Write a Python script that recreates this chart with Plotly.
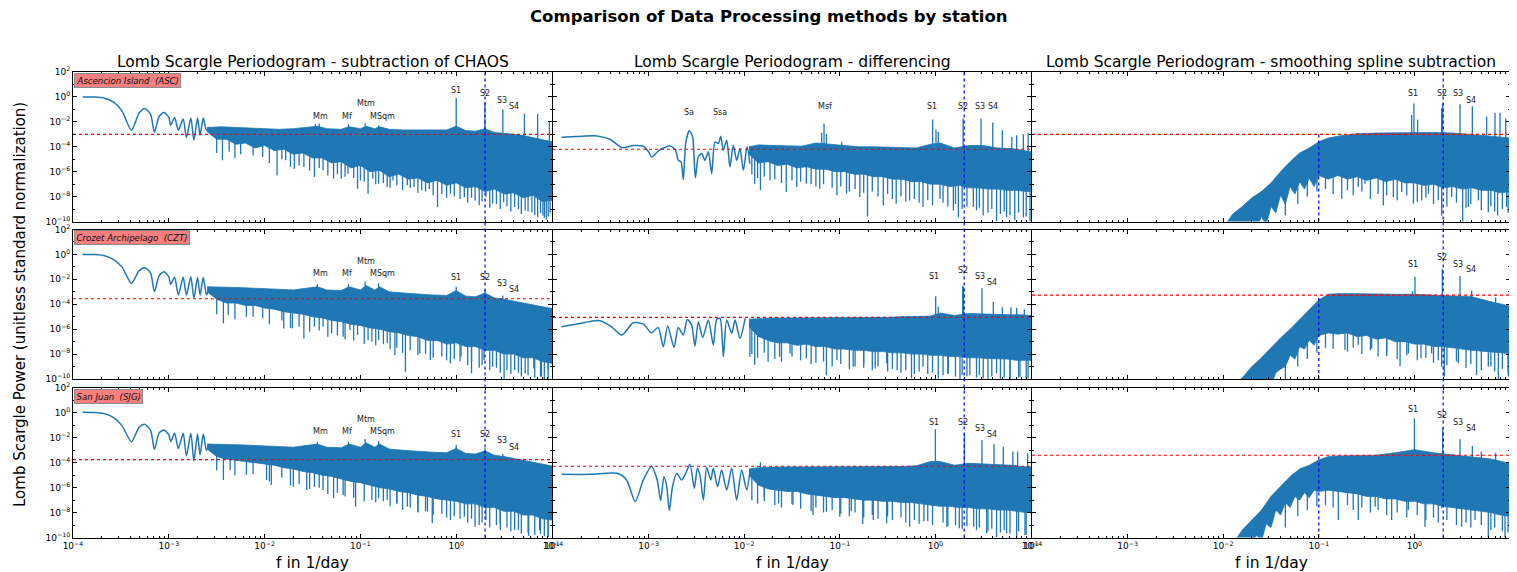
import numpy as np
import plotly.graph_objects as go

BLUE = "#1f77b4"
FONT = "DejaVu Sans"

# ---------------- data: log10(frequency [1/day]) and log10(power) ----------------
# Column 1: subtraction of CHAOS
c1_lobe_f = [-3.90, -3.78, -3.68, -3.58, -3.49, -3.39, -3.31, -3.25, -3.19, -3.15, -3.10, -3.05, -3.00,
             -2.98, -2.94, -2.90, -2.85, -2.816, -2.77, -2.738, -2.70, -2.674, -2.64, -2.607, -2.58]
asc_chaos_lobe = [0.00, -0.01, -0.08, -0.40, -1.10, -2.67, -1.30, -0.93, -1.40, -2.83, -1.55, -1.25, -1.65,
                  -2.27, -1.65, -2.67, -1.78, -3.26, -1.70, -3.48, -1.70, -3.07, -1.70, -2.67, -2.45]
czt_chaos_lobe = [0.00, -0.01, -0.08, -0.40, -1.00, -2.32, -1.30, -1.07, -1.50, -2.99, -1.70, -1.39, -1.80,
                  -2.40, -1.84, -3.26, -1.84, -3.26, -1.80, -3.53, -1.85, -3.26, -1.85, -3.26, -2.60]
sjg_chaos_lobe = [0.05, 0.03, -0.05, -0.35, -1.00, -2.31, -1.15, -0.92, -1.40, -2.92, -1.60, -1.37, -1.75,
                  -2.30, -1.64, -2.85, -1.64, -3.46, -1.64, -3.83, -1.70, -3.38, -1.70, -3.00, -2.50]

c1_top_f = [-2.60, -2.45, -2.30, -2.15, -2.00, -1.85, -1.70, -1.55, -1.45, -1.35, -1.20, -1.12, -1.00, -0.94,
            -0.85, -0.80, -0.70, -0.55, -0.40, -0.25, -0.10, 0.00, 0.10, 0.20, 0.30, 0.40, 0.50, 0.60, 0.70,
            0.80, 0.90, 1.00]
asc_chaos_top = [-2.45, -2.40, -2.45, -2.50, -2.55, -2.60, -2.55, -2.45, -2.35, -2.55, -2.60, -2.40, -2.55,
                 -2.35, -2.55, -2.40, -2.60, -2.65, -2.65, -2.70, -2.65, -2.35, -2.70, -2.75, -2.55, -2.85,
                 -2.90, -3.00, -3.10, -3.25, -3.40, -3.60]
czt_chaos_top = [-2.60, -2.60, -2.65, -2.70, -2.75, -2.85, -2.85, -2.70, -2.60, -2.85, -2.90, -2.60, -2.85,
                 -2.50, -2.85, -2.60, -3.00, -3.10, -3.20, -3.25, -3.30, -2.90, -3.35, -3.40, -3.10, -3.50,
                 -3.60, -3.75, -3.90, -4.05, -4.20, -4.35]
sjg_chaos_top = [-2.50, -2.50, -2.55, -2.60, -2.65, -2.75, -2.75, -2.60, -2.50, -2.75, -2.80, -2.50, -2.75,
                 -2.40, -2.75, -2.50, -2.90, -3.00, -3.10, -3.15, -3.20, -2.85, -3.25, -3.30, -3.05, -3.40,
                 -3.50, -3.65, -3.80, -3.95, -4.10, -4.26]

c1_bot_f = [-2.60, -2.50, -2.40, -2.30, -2.20, -2.10, -2.00, -1.90, -1.80, -1.70, -1.60, -1.50, -1.40, -1.30,
            -1.20, -1.10, -1.00, -0.90, -0.80, -0.70, -0.60, -0.50, -0.40, -0.30, -0.20, -0.10, 0.00, 0.10,
            0.20, 0.30, 0.40, 0.50, 0.60, 0.70, 0.80, 0.90, 1.00]
asc_chaos_bot = [-2.8, -3.4, -3.4, -3.8, -3.7, -4.1, -3.9, -4.3, -4.2, -4.6, -4.5, -4.9, -4.9, -5.3, -5.2,
                 -5.7, -5.5, -6.0, -5.9, -6.4, -6.2, -6.6, -6.5, -6.9, -6.7, -7.1, -6.9, -7.3, -7.2, -7.6,
                 -7.4, -7.8, -7.7, -8.1, -7.9, -8.4, -8.3]
czt_chaos_bot = [-3.0, -3.6, -3.9, -3.9, -4.1, -4.1, -4.3, -4.4, -4.6, -4.7, -4.8, -5.0, -5.1, -5.3, -5.4,
                 -5.6, -5.7, -5.9, -6.0, -6.2, -6.3, -6.5, -6.6, -6.9, -6.9, -7.2, -7.1, -7.4, -7.4, -7.7,
                 -7.7, -8.0, -8.0, -8.3, -8.3, -8.6, -8.75]
sjg_chaos_bot = [-2.9, -3.5, -3.7, -3.8, -3.9, -4.0, -4.1, -4.2, -4.4, -4.5, -4.7, -4.8, -5.0, -5.1, -5.3,
                 -5.5, -5.6, -5.8, -6.0, -6.1, -6.3, -6.4, -6.6, -6.7, -6.9, -7.0, -7.1, -7.3, -7.3, -7.6,
                 -7.6, -7.9, -7.9, -8.2, -8.2, -8.5, -8.6]

asc_chaos_peak_f = [-1.47, -1.43, -1.125, -0.95, -0.81, 0.00, 0.30, 0.487, 0.712, 0.85, 0.973]
asc_chaos_peak_p = [-2.20, -2.13, -2.19, -2.13, -2.27, -0.08, -0.40, -1.00, -1.38, -1.38, -1.92]
czt_chaos_peak_f = [-1.45, -1.125, -0.95, -0.81, 0.00, 0.30, 0.487]
czt_chaos_peak_p = [-2.38, -2.38, -2.19, -2.32, -2.59, -2.86, -3.30]
sjg_chaos_peak_f = [-1.45, -1.125, -0.95, -0.81, 0.00, 0.30, 0.487]
sjg_chaos_peak_p = [-2.31, -2.31, -2.09, -2.25, -2.57, -2.84, -3.30]

asc_chaos_dip_f = [-2.44, -2.37, -2.25, -2.02, -1.87, -1.78, -1.69, -1.59, -1.48, -1.39, -1.28, -1.20, -1.13,
                   -1.03, -1.00, -0.92, -0.87, -0.81, -0.72, -0.66, -0.51, -0.44, -0.36, -0.28, -0.195, -0.06,
                   0.085, 0.197, 0.31, 0.38, 0.495, 0.61, 0.72, 0.79, 0.85, 0.905, 0.94, 0.98]
asc_chaos_dip_p = [-5.09, -4.41, -4.60, -4.82, -6.29, -5.09, -5.76, -5.62, -6.43, -5.89, -6.56, -6.56, -6.16,
                   -7.37, -6.70, -7.77, -6.56, -6.96, -7.23, -6.70, -7.10, -7.23, -7.50, -7.40, -8.84, -7.77,
                   -8.04, -8.31, -8.04, -8.57, -8.44, -8.84, -9.11, -9.25, -9.65, -9.51, -9.86, -9.30]
czt_chaos_dip_f = [-2.43, -2.38, -2.19, -2.02, -1.80, -1.71, -1.59, -1.48, -1.39, -1.30, -1.18, -1.11, -1.03,
                   -0.92, -0.88, -0.81, -0.72, -0.64, -0.53, -0.38, -0.27, -0.06, 0.05, 0.16, 0.29, 0.38, 0.50,
                   0.61, 0.72, 0.81, 0.89, 0.96]
czt_chaos_dip_p = [-5.54, -4.87, -5.00, -5.13, -5.94, -5.94, -6.74, -5.80, -5.80, -6.34, -6.61, -6.07, -6.47,
                   -6.88, -7.01, -6.88, -7.14, -8.08, -9.42, -7.95, -8.48, -8.75, -8.21, -9.55, -8.48, -9.02,
                   -10.0, -9.28, -9.55, -9.15, -9.82, -9.28]
sjg_chaos_dip_f = [-2.43, -2.36, -2.19, -1.98, -1.93, -1.70, -1.56, -1.48, -1.39, -1.28, -1.18, -1.05, -0.88,
                   -0.81, -0.72, -0.62, -0.51, -0.40, -0.30, -0.25, -0.06, 0.085, 0.197, 0.31, 0.46, 0.61,
                   0.757, 0.87, 0.96]
sjg_chaos_dip_p = [-5.38, -4.58, -4.98, -5.38, -5.78, -5.92, -6.19, -5.92, -6.19, -6.85, -6.59, -7.52, -6.99,
                   -6.85, -6.99, -7.26, -7.52, -7.93, -7.93, -8.86, -8.59, -8.33, -9.13, -8.59, -8.86, -9.40,
                   -9.88, -9.40, -9.93]
# shorter dips between the long ones
c1_dip2_f = [-2.50, -2.31, -2.12, -1.95, -1.82, -1.73, -1.64, -1.53, -1.43, -1.34, -1.24, -1.16, -1.07, -0.96,
             -0.84, -0.76, -0.69, -0.62, -0.56, -0.48, -0.40, -0.32, -0.24, -0.15, -0.10, -0.02, 0.04, 0.12,
             0.16, 0.24, 0.27, 0.35, 0.42, 0.46, 0.53, 0.57, 0.65, 0.68, 0.75, 0.82, 0.88, 0.92, 0.96]
asc_chaos_dip2_p = [-4.5, -4.9, -4.7, -5.3, -5.0, -5.6, -5.5, -5.9, -5.7, -6.3, -6.2, -6.4, -6.5, -6.8, -7.0,
                    -6.9, -7.3, -7.1, -7.5, -7.3, -7.7, -7.6, -7.9, -7.8, -8.1, -8.0, -8.2, -8.5, -8.1, -8.7,
                    -8.4, -8.9, -8.6, -9.0, -8.8, -9.2, -9.0, -9.4, -9.2, -9.5, -9.3, -9.7, -9.6]
czt_chaos_dip2_p = [-4.8, -5.2, -5.0, -5.6, -5.3, -5.9, -5.8, -6.2, -6.1, -6.6, -6.5, -6.8, -6.9, -7.2, -7.3,
                    -7.2, -7.6, -7.5, -7.9, -7.7, -8.1, -8.0, -8.3, -8.2, -8.5, -8.4, -8.6, -8.9, -8.6, -9.1,
                    -8.9, -9.3, -9.1, -9.5, -9.3, -9.6, -9.5, -9.8, -9.7, -9.9, -9.8, -10.0, -10.0]
sjg_chaos_dip2_p = [-4.6, -5.0, -4.9, -5.5, -5.2, -5.8, -5.7, -6.1, -6.0, -6.5, -6.4, -6.7, -6.8, -7.1, -7.2,
                    -7.1, -7.5, -7.3, -7.8, -7.6, -8.0, -7.9, -8.2, -8.1, -8.4, -8.3, -8.5, -8.8, -8.5, -9.0,
                    -8.8, -9.2, -9.0, -9.4, -9.2, -9.5, -9.4, -9.7, -9.6, -9.8, -9.7, -9.9, -9.9]

# Column 2: differencing
asc_diff_curve_f = [-3.91, -3.75, -3.54, -3.40, -3.28, -3.16, -3.055, -3.00, -2.968, -2.92, -2.88, -2.83, -2.776,
                    -2.72, -2.69, -2.661, -2.637, -2.61, -2.574, -2.54, -2.511, -2.48, -2.445, -2.41, -2.375,
                    -2.34, -2.305, -2.27, -2.246, -2.218, -2.183, -2.149, -2.114, -2.079, -2.044, -2.009,
                    -1.97, -1.94]
asc_diff_curve_p = [-3.23, -3.18, -3.13, -3.42, -4.07, -3.90, -3.96, -4.41, -4.82, -4.50, -4.23, -4.07, -3.93,
                    -4.23, -5.09, -5.20, -6.64, -3.60, -2.72, -3.21, -6.48, -4.82, -4.55, -5.09, -4.41, -6.16,
                    -3.61, -3.74, -3.15, -4.28, -3.47, -5.62, -3.88, -5.09, -4.15, -5.89, -4.00, -5.35]
czt_diff_curve_f = [-3.91, -3.75, -3.51, -3.39, -3.28, -3.16, -3.055, -2.97, -2.90, -2.846, -2.80, -2.734, -2.69,
                    -2.637, -2.595, -2.55, -2.515, -2.48, -2.434, -2.375, -2.323, -2.288, -2.253, -2.218,
                    -2.183, -2.13, -2.096, -2.044, -1.99]
czt_diff_curve_p = [-5.80, -5.59, -5.32, -5.80, -6.47, -5.48, -5.59, -6.29, -5.86, -7.41, -5.75, -7.47, -5.86,
                    -6.47, -5.22, -5.67, -7.36, -5.40, -6.66, -5.27, -7.28, -5.22, -5.14, -8.21, -5.27, -6.34,
                    -5.27, -6.74, -5.14]
sjg_diff_curve_f = [-3.91, -3.61, -3.33, -3.23, -3.14, -3.055, -2.97, -2.91, -2.874, -2.84, -2.81, -2.783, -2.75,
                    -2.706, -2.654, -2.612, -2.567, -2.522, -2.49, -2.46, -2.427, -2.393, -2.35, -2.323, -2.278,
                    -2.236, -2.183, -2.131, -2.079, -2.026, -1.974, -1.94]
sjg_diff_curve_p = [-4.93, -4.93, -4.85, -5.38, -7.12, -5.38, -4.31, -5.38, -7.04, -5.12, -5.92, -7.84, -5.92,
                    -4.85, -5.38, -4.85, -4.13, -6.05, -4.45, -5.12, -6.99, -4.37, -5.38, -4.45, -5.92, -4.58,
                    -6.19, -4.45, -6.99, -4.58, -6.19, -4.71]

c2_top_f = [-1.95, -1.85, -1.70, -1.55, -1.40, -1.25, -1.10, -0.95, -0.80, -0.65, -0.50, -0.35, -0.20, -0.05,
            0.05, 0.20, 0.35, 0.50, 0.65, 0.80, 0.90, 1.00]
asc_diff_top = [-4.00, -3.85, -3.90, -3.90, -3.95, -3.70, -3.80, -3.95, -4.00, -4.00, -4.05, -4.05, -4.10, -3.80,
                -3.70, -4.10, -3.90, -3.90, -4.10, -4.15, -4.25, -4.40]
czt_diff_top = [-5.20, -5.15, -5.10, -5.10, -5.10, -5.05, -5.05, -5.10, -5.10, -5.05, -5.05, -5.00, -5.00, -4.95,
                -4.70, -4.90, -4.75, -4.80, -4.85, -4.85, -4.85, -4.90]
sjg_diff_top = [-4.50, -4.40, -4.35, -4.35, -4.35, -4.30, -4.35, -4.30, -4.35, -4.35, -4.30, -4.30, -4.25, -3.90,
                -3.90, -4.20, -4.05, -4.10, -4.15, -4.20, -4.30, -4.35]

c2_bot_f = [-1.95, -1.85, -1.75, -1.65, -1.55, -1.45, -1.35, -1.25, -1.15, -1.05, -0.95, -0.85, -0.75, -0.65,
            -0.55, -0.45, -0.35, -0.25, -0.15, -0.05, 0.05, 0.15, 0.25, 0.35, 0.45, 0.55, 0.65, 0.75, 0.85,
            0.95, 1.00]
asc_diff_bot = [-4.6, -5.3, -5.2, -5.5, -5.4, -5.7, -5.6, -5.8, -5.8, -6.0, -6.0, -6.2, -6.2, -6.4, -6.4, -6.6,
                -6.6, -6.8, -6.8, -7.0, -7.0, -7.2, -7.1, -7.3, -7.3, -7.4, -7.4, -7.5, -7.5, -7.6, -7.6]
czt_diff_bot = [-5.8, -6.6, -6.9, -7.1, -7.1, -7.3, -7.2, -7.4, -7.4, -7.6, -7.6, -7.7, -7.7, -7.8, -7.8, -7.9,
                -7.9, -8.0, -8.0, -8.1, -8.1, -8.2, -8.2, -8.3, -8.3, -8.35, -8.4, -8.4, -8.5, -8.5, -8.5]
sjg_diff_bot = [-5.0, -5.8, -6.1, -6.2, -6.3, -6.3, -6.5, -6.6, -6.7, -6.8, -6.8, -6.9, -7.0, -7.0, -7.1, -7.1,
                -7.2, -7.2, -7.3, -7.4, -7.5, -7.5, -7.6, -7.6, -7.7, -7.7, -7.8, -7.8, -7.9, -8.0, -8.0]

asc_diff_peak_f = [-1.19, -1.165, -1.14, -0.98, -0.029, 0.006, 0.03, 0.29, 0.477, 0.60, 0.70, 0.80, 0.85, 0.92, 0.97]
asc_diff_peak_p = [-2.88, -2.13, -2.95, -3.60, -1.81, -2.62, -2.80, -1.73, -1.73, -2.05, -2.67, -3.21, -3.07, -2.99, -2.88]
czt_diff_peak_f = [0.003, 0.03, 0.285, 0.295, 0.487, 0.606, 0.70, 0.79, 0.85, 0.93]
czt_diff_peak_p = [-3.35, -4.20, -2.54, -2.60, -2.72, -3.80, -4.25, -4.25, -4.30, -4.40]
sjg_diff_peak_f = [-1.83, 0.0, 0.303, 0.487, 0.613, 0.71, 0.81, 0.86, 0.965]
sjg_diff_peak_p = [-3.95, -1.32, -1.64, -2.17, -2.49, -2.71, -3.10, -3.10, -3.24]

asc_diff_dip_f = [-1.89, -1.83, -1.73, -1.56, -1.45, -1.35, -1.21, -1.03, -0.93, -0.79, -0.71, -0.545, -0.41,
                  -0.27, -0.13, 0.048, 0.188, 0.24, 0.397, 0.50, 0.64, 0.745, 0.83, 0.92, 0.99]
asc_diff_dip_p = [-6.96, -7.50, -6.70, -7.63, -7.23, -6.96, -7.37, -7.90, -7.77, -8.04, -9.60, -8.71, -8.57,
                  -8.31, -8.84, -8.17, -9.11, -9.65, -8.84, -9.51, -10.0, -9.65, -9.90, -9.65, -10.0]
czt_diff_dip_f = [-1.94, -1.89, -1.75, -1.63, -1.52, -1.35, -1.14, -1.03, -0.86, -0.75, -0.63, -0.51, -0.40,
                  -0.25, -0.13, 0.03, 0.135, 0.257, 0.36, 0.50, 0.64, 0.78, 0.885, 0.97]
czt_diff_dip_p = [-8.21, -8.88, -8.62, -8.21, -7.95, -8.35, -9.69, -8.48, -9.02, -8.75, -9.15, -8.75, -9.28,
                  -9.95, -9.02, -9.95, -9.55, -10.0, -9.69, -9.95, -9.55, -10.0, -9.82, -9.95]
sjg_diff_dip_f = [-1.79, -1.64, -1.49, -1.28, -1.14, -1.00, -0.88, -0.76, -0.65, -0.51, -0.27, -0.12, 0.12,
                  0.25, 0.40, 0.536, 0.64, 0.745, 0.85, 0.937]
sjg_diff_dip_p = [-6.77, -7.26, -7.39, -8.19, -7.93, -8.33, -7.90, -8.91, -8.60, -8.86, -9.13, -8.70, -9.13,
                  -9.26, -9.13, -9.66, -10.0, -9.66, -9.93, -9.80]
c2_dip2_f = [-1.92, -1.86, -1.79, -1.68, -1.61, -1.50, -1.41, -1.30, -1.25, -1.17, -1.08, -0.99, -0.90, -0.84,
             -0.75, -0.66, -0.60, -0.50, -0.45, -0.36, -0.31, -0.22, -0.17, -0.08, -0.03, 0.08, 0.13, 0.21,
             0.28, 0.33, 0.43, 0.46, 0.55, 0.59, 0.68, 0.72, 0.78, 0.87, 0.95]
asc_diff_dip2_p = [-6.2, -6.5, -6.4, -6.6, -6.9, -6.7, -6.8, -7.0, -7.2, -7.0, -7.3, -7.2, -7.6, -7.4, -7.7,
                   -7.6, -8.0, -7.8, -8.2, -8.0, -8.4, -8.2, -8.5, -8.3, -8.7, -8.5, -8.8, -8.6, -9.0, -8.8,
                   -9.1, -8.9, -9.3, -9.0, -9.4, -9.2, -9.5, -9.3, -9.6]
czt_diff_dip2_p = [-8.0, -8.3, -7.9, -8.4, -8.6, -8.2, -8.5, -8.8, -8.7, -8.6, -9.0, -8.8, -9.2, -9.0, -9.1,
                   -9.3, -9.0, -9.4, -9.2, -9.5, -9.3, -9.6, -9.4, -9.6, -9.5, -9.7, -9.6, -9.8, -9.7, -9.8,
                   -9.9, -9.7, -10.0, -9.8, -10.0, -9.9, -10.0, -9.9, -10.0]
sjg_diff_dip2_p = [-7.0, -7.3, -7.1, -7.4, -7.6, -7.3, -7.7, -7.9, -7.6, -8.0, -7.8, -8.1, -8.3, -8.0, -8.4,
                   -8.2, -8.5, -8.3, -8.6, -8.4, -8.8, -8.6, -8.9, -8.7, -9.0, -8.8, -9.1, -9.0, -9.3, -9.1,
                   -9.4, -9.2, -9.5, -9.3, -9.6, -9.4, -9.7, -9.5, -9.8]

# Column 3: smoothing spline subtraction
c3_top_f = [-2.00, -1.90, -1.80, -1.70, -1.60, -1.50, -1.40, -1.30, -1.20, -1.10, -1.00, -0.90, -0.80, -0.60,
            -0.40, -0.20, 0.00, 0.20, 0.40, 0.60, 0.80, 1.00]
asc_spl_top = [-10.5, -9.4, -8.8, -8.1, -7.6, -6.9, -6.0, -5.2, -4.5, -4.1, -3.6, -3.3, -3.15, -2.95, -2.90,
               -2.88, -2.85, -2.85, -2.90, -3.00, -3.15, -3.30]
czt_spl_top = [-10.5, -10.5, -9.9, -9.0, -8.3, -7.5, -6.7, -6.0, -5.2, -4.4, -3.66, -3.2, -3.15, -3.15, -3.20,
               -3.20, -3.20, -3.25, -3.30, -3.40, -3.80, -4.15]
sjg_spl_top = [-10.5, -10.5, -9.4, -8.6, -7.8, -6.7, -5.9, -5.1, -4.5, -4.2, -3.78, -3.5, -3.45, -3.45, -3.40,
               -3.20, -2.95, -3.20, -3.35, -3.50, -3.70, -4.05]

c3_bot_f = [-2.00, -1.95, -1.90, -1.85, -1.80, -1.75, -1.70, -1.65, -1.60, -1.55, -1.50, -1.45, -1.40, -1.35,
            -1.30, -1.25, -1.20, -1.15, -1.10, -1.05, -1.00, -0.90, -0.80, -0.70, -0.60, -0.50, -0.40, -0.30,
            -0.20, -0.10, 0.00, 0.10, 0.20, 0.30, 0.40, 0.50, 0.60, 0.70, 0.80, 0.90, 1.00]
asc_spl_bot = [-10.5, -10.5, -10.5, -10.5, -10.5, -10.5, -10.5, -10.5, -9.6, -10.3, -8.8, -9.3, -7.9, -8.6,
               -7.2, -7.8, -6.8, -7.4, -6.5, -7.2, -6.3, -6.6, -6.3, -6.6, -6.4, -6.7, -6.5, -6.8, -6.6, -6.9,
               -6.9, -7.1, -7.0, -7.3, -7.2, -7.4, -7.3, -7.5, -7.5, -7.7, -7.6]
czt_spl_bot = [-10.5, -10.5, -10.5, -10.5, -10.5, -10.5, -10.5, -10.5, -10.5, -10.2, -10.5, -9.5, -9.2, -9.0,
               -8.1, -8.4, -7.4, -7.6, -6.9, -7.3, -6.5, -6.3, -6.4, -6.3, -6.6, -6.5, -6.8, -6.7, -7.0, -7.0,
               -7.2, -7.2, -7.4, -7.4, -7.5, -7.6, -7.7, -7.8, -7.8, -7.9, -7.95]
sjg_spl_bot = [-10.5, -10.5, -10.5, -10.5, -10.5, -10.5, -10.5, -9.8, -10.3, -8.9, -9.2, -7.8, -8.2, -7.2,
               -7.6, -6.7, -7.0, -6.4, -6.8, -6.2, -6.3, -6.2, -6.3, -6.4, -6.5, -6.7, -6.7, -6.9, -6.9, -7.1,
               -7.1, -7.3, -7.3, -7.5, -7.6, -7.7, -7.8, -7.9, -8.0, -8.2, -8.3]

asc_spl_peak_f = [-0.029, -0.005, 0.034, 0.285, 0.296, 0.477, 0.606, 0.756, 0.843, 0.895, 0.955]
asc_spl_peak_p = [-1.46, -0.52, -1.81, -0.90, -0.52, -0.58, -0.74, -1.60, -1.27, -1.27, -1.73]
czt_spl_peak_f = [-0.02, 0.006, 0.292, 0.477, 0.599, 0.85]
czt_spl_peak_p = [-2.95, -1.79, -1.20, -1.73, -2.90, -3.45]
sjg_spl_peak_f = [0.0, 0.296, 0.477, 0.606, 0.70, 0.85]
sjg_spl_peak_p = [-0.43, -1.24, -2.12, -2.65, -3.10, -3.20]

asc_spl_dip_f = [-0.76, -0.587, -0.517, -0.325, -0.22, -0.133, -0.01, 0.076, 0.146, 0.285, 0.39, 0.505, 0.564,
                 0.669, 0.773, 0.87, 0.965]
asc_spl_dip_p = [-8.17, -7.23, -6.96, -8.71, -8.04, -7.64, -8.57, -8.31, -7.77, -9.51, -8.04, -10.1, -8.84,
                 -8.31, -9.25, -9.51, -8.84]
czt_spl_dip_f = [-0.726, -0.587, -0.447, -0.29, -0.15, -0.063, 0.069, 0.18, 0.285, 0.313, 0.46, 0.65, 0.773,
                 0.878, 0.983]
czt_spl_dip_p = [-7.68, -7.28, -7.55, -8.16, -8.97, -7.95, -8.35, -7.95, -9.02, -9.82, -8.75, -9.69, -9.02,
                 -10.0, -9.82]
sjg_spl_dip_f = [-0.796, -0.587, -0.41, -0.238, -0.064, 0.111, 0.285, 0.494, 0.634, 0.773, 0.948]
sjg_spl_dip_p = [-8.59, -8.59, -7.52, -8.59, -7.79, -9.13, -7.66, -9.13, -8.59, -9.99, -9.99]
c3_dip2_f = [-1.35, -1.22, -1.12, -1.02, -0.93, -0.85, -0.70, -0.64, -0.55, -0.46, -0.38, -0.29, -0.18, -0.08,
             0.03, 0.12, 0.20, 0.25, 0.34, 0.44, 0.54, 0.59, 0.70, 0.80, 0.84, 0.92, 0.98]
asc_spl_dip2_p = [-9.5, -8.6, -8.0, -7.6, -7.4, -7.8, -7.5, -7.9, -7.6, -8.2, -7.8, -7.9, -8.3, -7.9, -8.4,
                  -8.1, -8.6, -8.3, -8.8, -8.5, -8.9, -8.6, -9.1, -8.8, -9.2, -9.0, -9.3]
czt_spl_dip2_p = [-10.0, -9.0, -8.4, -7.9, -7.5, -7.6, -7.8, -7.5, -8.0, -7.7, -8.2, -7.9, -8.4, -8.1, -8.5,
                  -8.3, -8.7, -8.5, -8.9, -8.6, -9.1, -8.8, -9.3, -9.0, -9.4, -9.2, -9.5]
sjg_spl_dip2_p = [-9.2, -8.3, -7.8, -7.5, -7.4, -7.6, -7.4, -7.8, -7.6, -8.0, -7.8, -8.2, -8.0, -8.4, -8.2,
                  -8.6, -8.4, -8.8, -8.6, -9.0, -8.8, -9.2, -9.0, -9.4, -9.2, -9.5, -9.6]

# significance thresholds (log10 power), rows = stations, cols = methods
thresholds = [[-3.00, -4.20, -3.00],
              [-3.56, -5.05, -3.26],
              [-3.75, -4.28, -3.40]]

# tidal line labels (name, log10 f, log10 power)
c1_lab_names = ["Mm", "Mf", "Mtm", "MSqm", "S1", "S2", "S3", "S4"]
c1_lab_f = [-1.42, -1.14, -0.94, -0.765, 0.0, 0.297, 0.477, 0.60]
asc_chaos_lab_p = [-1.54, -1.54, -0.52, -1.54, 0.50, 0.28, -0.25, -0.79]
czt_chaos_lab_p = [-1.57, -1.57, -0.58, -1.57, -1.84, -1.84, -2.32, -2.81]
sjg_chaos_lab_p = [-1.50, -1.50, -0.51, -1.50, -1.77, -1.77, -2.25, -2.76]
asc_diff_lab_names = ["Sa", "Ssa", "Msf", "S1", "S2", "S3", "S4"]
asc_diff_lab_f = [-2.58, -2.25, -1.155, -0.039, 0.29, 0.467, 0.60]
asc_diff_lab_p = [-1.27, -1.27, -0.79, -0.79, -0.79, -0.79, -0.79]
s_lab_names = ["S1", "S2", "S3", "S4"]
c2_lab_f = [-0.011, 0.29, 0.467, 0.592]
czt_diff_lab_p = [-1.79, -1.31, -1.79, -2.27]
sjg_diff_lab_p = [-0.76, -0.76, -1.24, -1.77]
c3_lab_f = [-0.018, 0.285, 0.46, 0.592]
asc_spl_lab_p = [0.28, 0.28, 0.28, -0.25]
czt_spl_lab_p = [-0.80, -0.26, -0.80, -1.25]
sjg_spl_lab_p = [0.29, -0.22, -0.76, -1.24]

stations = ["Ascencion Island\u00a0 (ASC)", "Crozet Archipelago\u00a0 (CZT)", "San Juan\u00a0 (SJG)"]
methods = ["Lomb Scargle Periodogram - subtraction of CHAOS",
           "Lomb Scargle Periodogram - differencing",
           "Lomb Scargle Periodogram - smoothing spline subtraction"]
S2_FREQ = 2.0
CUTOFF_FREQ = 0.1

panels = [
    (0, 0, c1_lobe_f, asc_chaos_lobe, c1_top_f, asc_chaos_top, c1_bot_f, asc_chaos_bot,
     asc_chaos_peak_f, asc_chaos_peak_p, asc_chaos_dip_f + c1_dip2_f, asc_chaos_dip_p + asc_chaos_dip2_p,
     c1_lab_names, c1_lab_f, asc_chaos_lab_p),
    (1, 0, c1_lobe_f, czt_chaos_lobe, c1_top_f, czt_chaos_top, c1_bot_f, czt_chaos_bot,
     czt_chaos_peak_f, czt_chaos_peak_p, czt_chaos_dip_f + c1_dip2_f, czt_chaos_dip_p + czt_chaos_dip2_p,
     c1_lab_names, c1_lab_f, czt_chaos_lab_p),
    (2, 0, c1_lobe_f, sjg_chaos_lobe, c1_top_f, sjg_chaos_top, c1_bot_f, sjg_chaos_bot,
     sjg_chaos_peak_f, sjg_chaos_peak_p, sjg_chaos_dip_f + c1_dip2_f, sjg_chaos_dip_p + sjg_chaos_dip2_p,
     c1_lab_names, c1_lab_f, sjg_chaos_lab_p),
    (0, 1, asc_diff_curve_f, asc_diff_curve_p, c2_top_f, asc_diff_top, c2_bot_f, asc_diff_bot,
     asc_diff_peak_f, asc_diff_peak_p, asc_diff_dip_f + c2_dip2_f, asc_diff_dip_p + asc_diff_dip2_p,
     asc_diff_lab_names, asc_diff_lab_f, asc_diff_lab_p),
    (1, 1, czt_diff_curve_f, czt_diff_curve_p, c2_top_f, czt_diff_top, c2_bot_f, czt_diff_bot,
     czt_diff_peak_f, czt_diff_peak_p, czt_diff_dip_f + c2_dip2_f, czt_diff_dip_p + czt_diff_dip2_p,
     s_lab_names, c2_lab_f, czt_diff_lab_p),
    (2, 1, sjg_diff_curve_f, sjg_diff_curve_p, c2_top_f, sjg_diff_top, c2_bot_f, sjg_diff_bot,
     sjg_diff_peak_f, sjg_diff_peak_p, sjg_diff_dip_f + c2_dip2_f, sjg_diff_dip_p + sjg_diff_dip2_p,
     s_lab_names, c2_lab_f, sjg_diff_lab_p),
    (0, 2, None, None, c3_top_f, asc_spl_top, c3_bot_f, asc_spl_bot,
     asc_spl_peak_f, asc_spl_peak_p, asc_spl_dip_f + c3_dip2_f, asc_spl_dip_p + asc_spl_dip2_p,
     s_lab_names, c3_lab_f, asc_spl_lab_p),
    (1, 2, None, None, c3_top_f, czt_spl_top, c3_bot_f, czt_spl_bot,
     czt_spl_peak_f, czt_spl_peak_p, czt_spl_dip_f + c3_dip2_f, czt_spl_dip_p + czt_spl_dip2_p,
     s_lab_names, c3_lab_f, czt_spl_lab_p),
    (2, 2, None, None, c3_top_f, sjg_spl_top, c3_bot_f, sjg_spl_bot,
     sjg_spl_peak_f, sjg_spl_peak_p, sjg_spl_dip_f + c3_dip2_f, sjg_spl_dip_p + sjg_spl_dip2_p,
     s_lab_names, c3_lab_f, sjg_spl_lab_p),
]

# ---------------- layout geometry ----------------
# the page body has an 8px margin, so the figure is placed at (8, 8) in the window
OFF = 8
W, H = 1517 - OFF, 572 - OFF


def px(x):
    return (x - OFF) / W


def py(y):
    return 1 - (y - OFF) / H


xdoms = [[px(73), px(552)], [px(553), px(1031)], [px(1032), px(1510)]]
ydoms = [[py(221.5), py(72)], [py(379), py(229.5)], [py(537.5), py(388)]]


def P(v):
    return [10.0 ** x for x in v]


def axname(i):
    return ("x", "y") if i == 1 else (f"x{i}", f"y{i}")


fig = go.Figure()
annotations = []
shapes = []

for (r, c, cf, cp, tf, tp, bf, bp, pkf, pkp, dpf, dpp, lnames, lf, lp) in panels:
    i = r * 3 + c + 1
    xa, ya = axname(i)
    # dense noise band
    bx = P(tf) + P(bf[::-1])
    by = P(tp) + P(bp[::-1])
    fig.add_trace(go.Scatter(x=bx, y=by, xaxis=xa, yaxis=ya, mode="lines", fill="toself",
                             fillcolor=BLUE, line=dict(color=BLUE, width=0.8),
                             hoverinfo="skip", showlegend=False))
    # needles (narrow peaks and dips)
    nx, ny = [], []
    for f, v in zip(pkf, pkp):
        b = float(np.interp(f, tf, tp)) - 0.3
        nx += [10 ** f, 10 ** f, None]
        ny += [10 ** b, 10 ** v, None]
    for f, v in zip(dpf, dpp):
        b = float(np.interp(f, bf, bp)) + 0.3
        nx += [10 ** f, 10 ** f, None]
        ny += [10 ** b, 10 ** v, None]
    fig.add_trace(go.Scatter(x=nx, y=ny, xaxis=xa, yaxis=ya, mode="lines",
                             line=dict(color=BLUE, width=1.3), hoverinfo="skip", showlegend=False))
    # low-frequency smooth part
    if cf is not None:
        fig.add_trace(go.Scatter(x=P(cf), y=P(cp), xaxis=xa, yaxis=ya, mode="lines",
                                 line=dict(color=BLUE, width=1.5, shape="spline", smoothing=0.7),
                                 hoverinfo="skip", showlegend=False))
    thr = thresholds[r][c]
    fig.add_trace(go.Scatter(x=[1e-4, 10], y=[10 ** thr, 10 ** thr], xaxis=xa, yaxis=ya, mode="lines",
                             line=dict(color="red", width=1.2, dash="dot"), hoverinfo="skip", showlegend=False))
    if c == 2:
        fig.add_trace(go.Scatter(x=[CUTOFF_FREQ, CUTOFF_FREQ], y=[1e-10, 10 ** thr], xaxis=xa, yaxis=ya,
                                 mode="lines", line=dict(color="blue", width=1.2, dash="dot"),
                                 hoverinfo="skip", showlegend=False))
    for name, f, v in zip(lnames, lf, lp):
        annotations.append(dict(x=f, y=v, xref=xa, yref=ya, text=name, showarrow=False,
                                xanchor="center", yanchor="middle",
                                font=dict(family=FONT, size=8, color="#222")))
    if c == 0:
        annotations.append(dict(x=0.002, y=0.995, xref=f"{xa} domain", yref=f"{ya} domain",
                                xanchor="left", yanchor="top", showarrow=False,
                                text=f"<i>{stations[r]}</i>", bgcolor="#f77f7f",
                                bordercolor="#8c8c8c", borderwidth=1, borderpad=1.5,
                                font=dict(family=FONT, size=8.6, color="#111")))

# axes
xt_vals = [1e-4, 1e-3, 1e-2, 1e-1, 1, 10]
xt_text = ["10<sup>−4</sup>", "10<sup>−3</sup>", "10<sup>−2</sup>", "10<sup>−1</sup>", "10<sup>0</sup>",
           "10<sup>1</sup>"]
x_minor = [k * 10.0 ** e for e in range(-4, 1) for k in range(2, 10)]
yt_vals = [1e2, 1, 1e-2, 1e-4, 1e-6, 1e-8, 1e-10]
yt_text = ["10<sup>2</sup>", "10<sup>0</sup>", "10<sup>−2</sup>", "10<sup>−4</sup>", "10<sup>−6</sup>",
           "10<sup>−8</sup>", "10<sup>−10</sup>"]
y_minor = [1e1, 1e-1, 1e-3, 1e-5, 1e-7, 1e-9]

layout_axes = {}
for r in range(3):
    for c in range(3):
        i = r * 3 + c + 1
        xa, ya = axname(i)
        xk = "xaxis" if i == 1 else f"xaxis{i}"
        yk = "yaxis" if i == 1 else f"yaxis{i}"
        layout_axes[xk] = dict(type="log", range=[-4, 1], domain=xdoms[c], anchor=ya,
                               showline=True, linecolor="black", linewidth=1, mirror="ticks",
                               ticks="inside", ticklen=4, tickcolor="black", tickwidth=1,
                               tickvals=xt_vals, ticktext=xt_text, showticklabels=(r == 2),
                               tickfont=dict(family=FONT, size=9, color="black"),
                               showgrid=False, zeroline=False,
                               minor=dict(ticks="inside", ticklen=2, tickcolor="black",
                                          tickvals=x_minor, showgrid=False))
        layout_axes[yk] = dict(type="log", range=[-10, 2], domain=ydoms[r], anchor=xa,
                               showline=True, linecolor="black", linewidth=1, mirror="ticks",
                               ticks="inside", ticklen=4, tickcolor="black", tickwidth=1,
                               tickvals=yt_vals, ticktext=yt_text, showticklabels=(c == 0),
                               tickfont=dict(family=FONT, size=9, color="black"),
                               showgrid=False, zeroline=False,
                               minor=dict(ticks="inside", ticklen=2, tickcolor="black",
                                          tickvals=y_minor, showgrid=False))

# S2 vertical marker through all rows of each column
for c in range(3):
    x0, x1 = xdoms[c]
    xp = x0 + (np.log10(S2_FREQ) + 4) / 5 * (x1 - x0)
    shapes.append(dict(type="line", xref="paper", yref="paper", x0=xp, x1=xp,
                       y0=ydoms[2][0], y1=ydoms[0][1], line=dict(color="blue", width=1.2, dash="dot")))

# titles
annotations.append(dict(x=px(768.6), y=py(17), xref="paper", yref="paper", showarrow=False,
                        xanchor="center", yanchor="middle",
                        text="<b>Comparison of Data Processing methods by station</b>",
                        font=dict(family=FONT, size=16.5, color="black")))
for c in range(3):
    xc = (xdoms[c][0] + xdoms[c][1]) / 2
    annotations.append(dict(x=xc, y=py(62), xref="paper", yref="paper", showarrow=False,
                            xanchor="center", yanchor="middle",
                            text=methods[c], font=dict(family=FONT, size=15.5, color="black")))
    annotations.append(dict(x=xc, y=py(563), xref="paper", yref="paper", showarrow=False,
                            xanchor="center", yanchor="middle",
                            text="f in 1/day", font=dict(family=FONT, size=15.5, color="black")))
annotations.append(dict(x=px(20), y=py(305), xref="paper", yref="paper", showarrow=False,
                        xanchor="center", yanchor="middle",
                        textangle=-90, text="Lomb Scargle Power (unitless standard normalization)",
                        font=dict(family=FONT, size=15, color="black")))

fig.update_layout(width=W, height=H, autosize=False, margin=dict(l=0, r=0, t=0, b=0),
                  paper_bgcolor="white", plot_bgcolor="white", showlegend=False,
                  template="none", annotations=annotations, shapes=shapes,
                  font=dict(family=FONT, color="black"), **layout_axes)

fig.write_html("out.html")
